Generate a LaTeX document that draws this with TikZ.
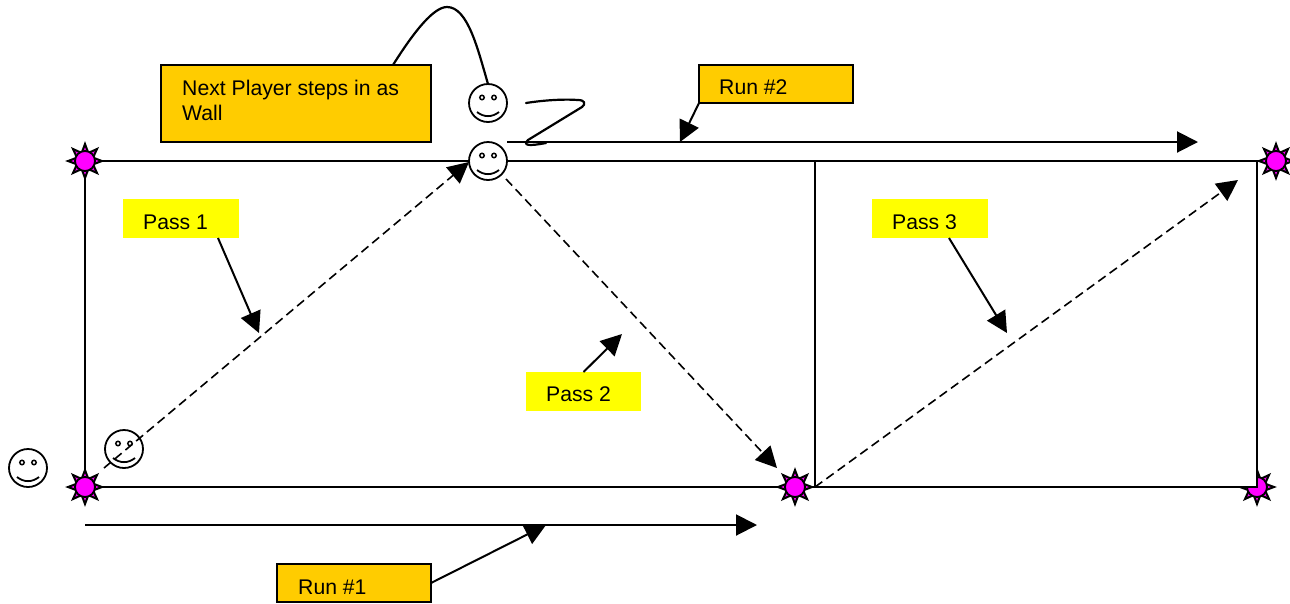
\documentclass[tikz,border=0pt]{standalone}
\usepackage{fontspec}
\setmainfont{Liberation Sans}
\usetikzlibrary{shapes.geometric,arrows.meta}
\definecolor{amberbox}{RGB}{255,204,0}
\definecolor{lemonbox}{RGB}{255,255,0}
\definecolor{sunpink}{RGB}{255,0,255}
\tikzset{
  x=1pt,y=-1pt,
  field/.style={draw=black,line width=2.2pt,inner sep=0pt,outer sep=0pt,anchor=north west},
  amber/.style={draw=black,line width=2.2pt,fill=amberbox,inner sep=0pt,outer sep=0pt,anchor=north west},
  lemon/.style={fill=lemonbox,inner sep=0pt,outer sep=0pt,anchor=north west},
  lbl/.style={inner sep=0pt,anchor=base west,font=\fontsize{21.2}{24}\selectfont,text=black},
  sunray/.style={star,star points=8,star point ratio=1.95,minimum size=34pt,inner sep=0pt,outer sep=0pt,draw=black,fill=sunpink,line width=2pt,miter limit=4},
  suncore/.style={circle,minimum size=20pt,inner sep=0pt,outer sep=0pt,draw=black,fill=sunpink,line width=1.8pt},
  faceb/.style={circle,minimum size=38pt,inner sep=0pt,outer sep=0pt,draw=black,line width=1.8pt},
  pass/.style={line width=1.6pt,dash pattern=on 9pt off 5pt,-{Triangle[length=21pt,width=21pt]}},
  arrowline/.style={line width=2pt,-{Triangle[length=21pt,width=21pt]}},
  ink/.style={line width=2.2pt,line cap=round,line join=round}
}
\newcommand{\facefeatures}[1]{%
  \draw[line width=1.5pt] (#1)++(-6,-5.5) circle[radius=2.2];
  \draw[line width=1.5pt] (#1)++(6,-5.5) circle[radius=2.2];
  \draw[line width=1.8pt] (#1)++(-11,9) .. controls +(7,5.5) and +(-7,5.5) .. +(22,0);
}
\newcommand{\sunat}[2]{%
  \node[sunray] (#1) at (#2) {};
  \node[suncore] (#1core) at (#2) {};
}
\begin{document}
\begin{tikzpicture}
\useasboundingbox (0,0) rectangle (1290,603);
\fill[white] (0,0) rectangle (1290,603);

% left field
\node[field,minimum width=730pt,minimum height=326pt] (fieldA) at (85,161) {};

% stars
\sunat{starA}{85,161}
\sunat{starB}{85,487}
\sunat{starC}{795,487}
\sunat{starE}{1257,487}

% right field (covers part of the corner star)
\node[field,fill=white,minimum width=442pt,minimum height=326pt] (fieldB) at (815,161) {};
\sunat{starD}{1276,161}

% boxes
\node[amber,minimum width=270pt,minimum height=77pt] (wallbox) at (161,65) {};
\node[lbl] (walltextA) at (182,95) {Next Player steps in as};
\node[lbl] (walltextB) at (182,120) {Wall};

\node[amber,minimum width=154pt,minimum height=38pt] (runtwo) at (699,65) {};
\begin{scope}
  \clip (700,66) rectangle (852,93);
  \node[lbl] (runtwotext) at (719,94.5) {Run \#2};
\end{scope}

\node[amber,minimum width=154pt,minimum height=38pt] (runone) at (277,564) {};
\begin{scope}
  \clip (278,565) rectangle (430,593);
  \node[lbl] (runonetext) at (298,594.5) {Run \#1};
\end{scope}

\node[lemon,minimum width=116pt,minimum height=39pt] (passone) at (123,199) {};
\node[lbl] (passonetext) at (143,229) {Pass 1};
\node[lemon,minimum width=115pt,minimum height=39pt] (passtwo) at (526,372) {};
\node[lbl] (passtwotext) at (546,401) {Pass 2};
\node[lemon,minimum width=116pt,minimum height=39pt] (passthree) at (872,199) {};
\begin{scope}
  \clip (872,199) rectangle (988,228);
  \node[lbl] (passthreetext) at (892,229) {Pass 3};
\end{scope}

% faces
\node[faceb,fill=white] (wall) at (488,161) {};
\facefeatures{wall}
\node[faceb,fill=white] (nextplayer) at (488,103) {};
\facefeatures{nextplayer}
\node[faceb,fill=white] (waiting) at (28,468) {};
\facefeatures{waiting}
\node[faceb,fill=white] (passer) at (124,449) {};
\facefeatures{passer}

% free ends
\coordinate (pAstart) at (104,468);
\coordinate (pAtip) at (469,162);
\coordinate (pBstart) at (506,179);
\coordinate (pBtip) at (777,468);
\coordinate (pCtip) at (1238,180);
\coordinate (rAstart) at (85,525);
\coordinate (rAtip) at (757,525);
\coordinate (rBstart) at (507,142);
\coordinate (rBtip) at (1198,142);
\coordinate (cAtip) at (259,333);
\coordinate (cBtip) at (622,334);
\coordinate (cCtip) at (1007,333);
\coordinate (cRAtip) at (546,525);
\coordinate (cRBtip) at (680,142);
\coordinate (zigA) at (526,103);
\coordinate (zigB) at (546,143);

% passes
\draw[pass] (pAstart) -- (pAtip);
\draw[pass] (pBstart) -- (pBtip);
\draw[pass] (fieldB.south west) -- (pCtip);

% runs
\draw[arrowline] (rAstart) -- (rAtip);
\draw[arrowline] (rBstart) -- (rBtip);

% callouts
\draw[arrowline] ([xshift=37pt]passone.south) -- (cAtip);
\draw[arrowline] (passtwo.north) -- (cBtip);
\draw[arrowline] ([xshift=19pt]passthree.south) -- (cCtip);
\draw[arrowline] (runone.east) -- (cRAtip);
\draw[arrowline] (runtwo.south west) -- (cRBtip);

% hand-drawn lines
\draw[ink] ([xshift=97pt]wallbox.north) .. controls (415,30) and (434,7) .. (447,7)
  .. controls (468,7) and (478,50) .. (nextplayer.north);
\draw[ink] (zigA) .. controls (545,100) and (565,99) .. (578,100)
  .. controls (585,100) and (586,104) .. (582,107)
  -- (528,140) .. controls (522,146) and (530,146) .. (zigB);
\end{tikzpicture}
\end{document}
